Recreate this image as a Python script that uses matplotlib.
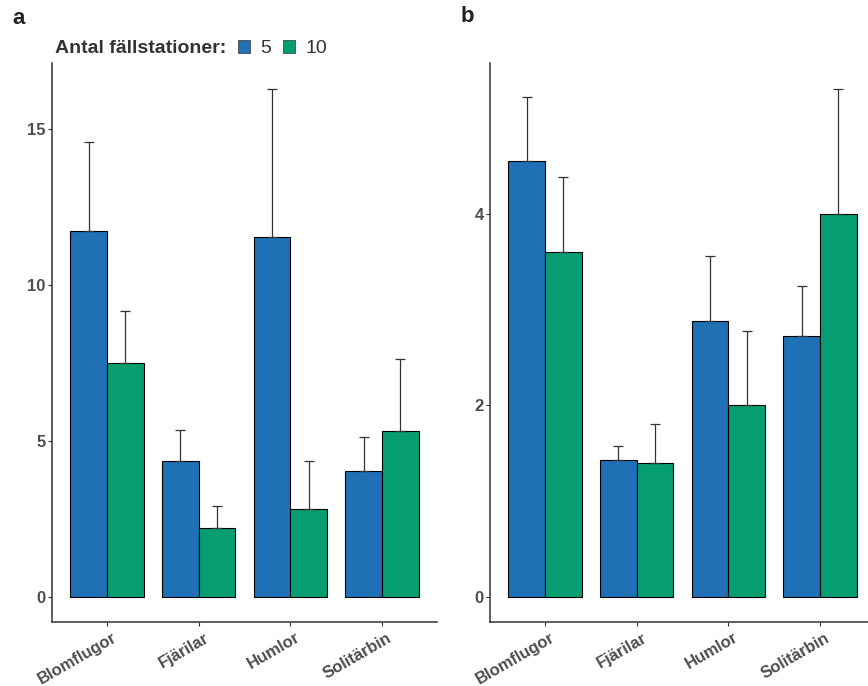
import numpy as np
import matplotlib
matplotlib.use('Agg')
import matplotlib.pyplot as plt
from matplotlib.patches import Patch
from matplotlib.transforms import ScaledTranslation

plt.rcParams['font.family'] = ['Liberation Sans', 'DejaVu Sans']

groups = ['Blomflugor', 'Fjärilar', 'Humlor', 'Solitärbin']
series = ['5', '10']

# panel a
a_mean_5 = [11.73, 4.36, 11.54, 4.04]
a_se_5 = [2.85, 0.99, 4.74, 1.09]
a_mean_10 = [7.50, 2.21, 2.82, 5.32]
a_se_10 = [1.67, 0.71, 1.54, 2.31]

# panel b
b_mean_5 = [4.56, 1.43, 2.88, 2.73]
b_se_5 = [0.66, 0.14, 0.68, 0.52]
b_mean_10 = [3.60, 1.40, 2.00, 4.00]
b_se_10 = [0.79, 0.41, 0.78, 1.31]

blue = '#1F70B5'
green = '#069E70'
tick_col = '#4D4D4D'

W, H = 868, 686
fig = plt.figure(figsize=(W / 100, H / 100), dpi=100)

def panel(left, means5, se5, means10, se10, yticks):
    ax = fig.add_axes([left / W, 1 - 622 / H, 385 / W, (622 - 63.5) / H])
    x = np.arange(1, len(groups) + 1)
    w = 0.4
    for off, m, s, col in [(-w / 2, means5, se5, blue), (w / 2, means10, se10, green)]:
        ax.bar(x + off, m, width=w, color=col, edgecolor='black', linewidth=0.8, zorder=2)
        ax.errorbar(x + off, m, yerr=[np.zeros(len(m)), s], fmt='none', ecolor='#333333',
                    elinewidth=0.9, capsize=3.8, capthick=0.9, zorder=3)
    top = max((np.array(means5) + np.array(se5)).max(), (np.array(means10) + np.array(se10)).max())
    ax.set_ylim(-0.05 * top, top * 1.05)
    ax.set_xlim(0.4, 4.6)
    ax.set_xticks(x)
    ax.set_xticklabels([])
    # rotated category labels, nudged so their ends sit just right of the ticks
    shift = ScaledTranslation(5 / 100, -8 / 100, fig.dpi_scale_trans)
    for xi, g in zip(x, groups):
        ax.text(xi, 0, g, transform=ax.get_xaxis_transform() + shift, rotation=30,
                ha='right', va='top', rotation_mode='anchor', fontsize=12,
                fontweight='bold', color=tick_col, clip_on=False)
    ax.set_yticks(yticks)
    ax.set_yticklabels([str(t) for t in yticks], fontsize=12, fontweight='bold', color=tick_col)
    ax.tick_params(length=3, width=0.8, color='#333333', pad=1.5)
    for sp in ['top', 'right']:
        ax.spines[sp].set_visible(False)
    for sp in ['left', 'bottom']:
        ax.spines[sp].set_linewidth(1.1)
        ax.spines[sp].set_color('#333333')
    return ax

ax_a = panel(52, a_mean_5, a_se_5, a_mean_10, a_se_10, [0, 5, 10, 15])
ax_b = panel(490, b_mean_5, b_se_5, b_mean_10, b_se_10, [0, 2, 4])

fig.text(12 / W, 1 - 19 / H, 'a', fontsize=16, fontweight='bold', color='#222222', va='center')
fig.text(461 / W, 1 - 17 / H, 'b', fontsize=16, fontweight='bold', color='#222222', va='center')

fig.text(55 / W, 1 - 48.5 / H, 'Antal fällstationer:', fontsize=14, fontweight='bold',
         color='#333333', va='center', ha='left')
handles = [Patch(facecolor=blue, edgecolor='#333333', linewidth=0.5),
           Patch(facecolor=green, edgecolor='#333333', linewidth=0.5)]
leg = fig.legend(handles, series, ncol=2, loc='center left', bbox_to_anchor=(238 / W, 1 - 48.5 / H),
                 frameon=False, handlelength=0.6, handleheight=0.7, handletextpad=0.55,
                 columnspacing=0.6, borderpad=0, borderaxespad=0, fontsize=14)
for t in leg.get_texts():
    t.set_color('#333333')

fig.savefig('out.png', dpi=100)
